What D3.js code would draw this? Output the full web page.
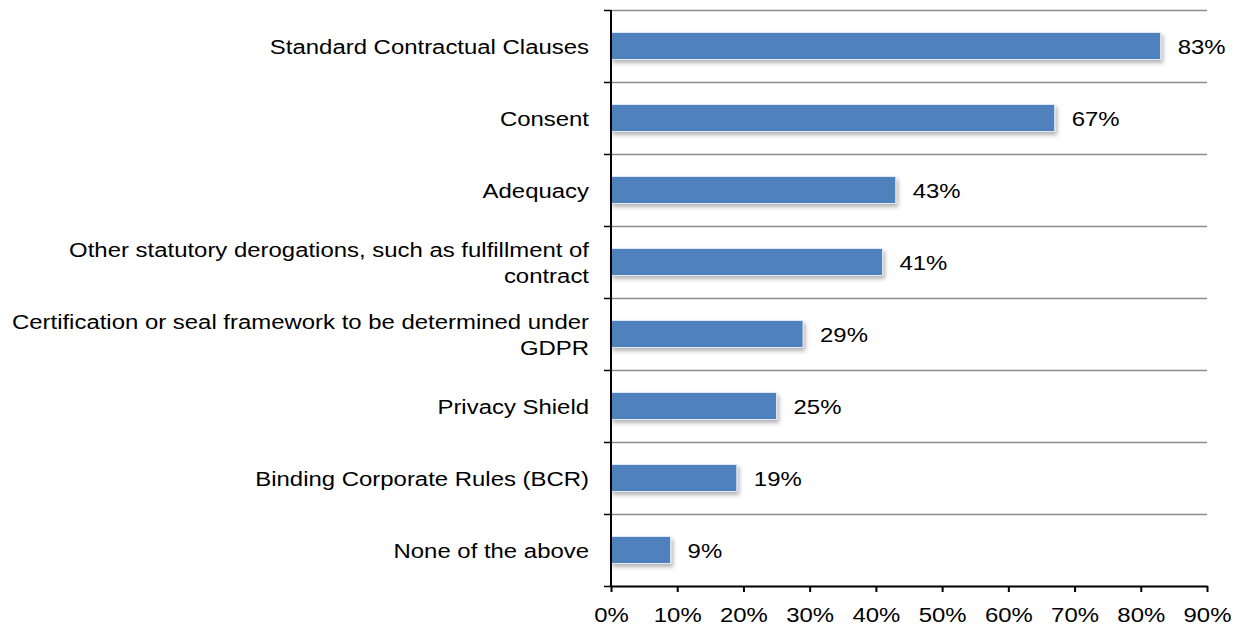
<!DOCTYPE html>
<html>
<head>
<meta charset="utf-8">
<script src="https://cdn.jsdelivr.net/npm/d3@7"></script>
<style>
  body { margin: 0; background: #fff; }
  text { font-family: "Liberation Sans", Arial, sans-serif; }
</style>
</head>
<body>
<div id="chart"></div>
<script>
// categories (lines split where the original wraps)
const categories = [
    ['Standard Contractual Clauses'],
    ['Consent'],
    ['Adequacy'],
    ['Other statutory derogations, such as fulfillment of', 'contract'],
    ['Certification or seal framework to be determined under', 'GDPR'],
    ['Privacy Shield'],
    ['Binding Corporate Rules (BCR)'],
    ['None of the above']
];
const values = [83, 67, 43, 41, 29, 25, 19, 9];
const xTicks = [0, 10, 20, 30, 40, 50, 60, 70, 80, 90];

const width = 1239;
const height = 626;
const margin = {top: 10, right: 32, bottom: 40, left: 611};
const fontSize = 21;
const stretch = 'scale(1.14,1)'; // text in the original is a bit wider than Arial

const svg = d3.select('#chart').append('svg')
    .attr('width', width)
    .attr('height', height);

// soft shadow under the bars
const filter = svg.append('defs').append('filter')
    .attr('id', 'shadow')
    .attr('x', '-10%').attr('y', '-30%')
    .attr('width', '130%').attr('height', '180%');
filter.append('feDropShadow')
    .attr('dx', 2).attr('dy', 3)
    .attr('stdDeviation', 2)
    .attr('flood-color', '#000')
    .attr('flood-opacity', 0.3);

const x = d3.scaleLinear()
    .domain([0, 90])
    .range([margin.left, width - margin.right]);

const y = d3.scaleBand()
    .domain(d3.range(categories.length))
    .range([margin.top, height - margin.bottom])
    .paddingInner(0.625)
    .paddingOuter(0.3125);

const step = y.step();

// horizontal gridlines at band boundaries
svg.append('g')
    .selectAll('line')
    .data(d3.range(categories.length))
    .enter().append('line')
    .attr('x1', x(0))
    .attr('x2', x(90))
    .attr('y1', d => Math.round(margin.top + d * step) + 0.5)
    .attr('y2', d => Math.round(margin.top + d * step) + 0.5)
    .attr('stroke', '#8c8c8c')
    .attr('stroke-width', 1.5);

// y axis ticks at boundaries
svg.append('g')
    .selectAll('line')
    .data(d3.range(categories.length + 1))
    .enter().append('line')
    .attr('x1', x(0) - 7)
    .attr('x2', x(0))
    .attr('y1', d => Math.round(margin.top + d * step) + 0.5)
    .attr('y2', d => Math.round(margin.top + d * step) + 0.5)
    .attr('stroke', '#000')
    .attr('stroke-width', 1.5);

// bars
svg.append('g')
    .selectAll('rect')
    .data(values)
    .enter().append('rect')
    .attr('x', x(0))
    .attr('y', (d, i) => y(i))
    .attr('width', d => x(d) - x(0))
    .attr('height', y.bandwidth())
    .attr('fill', '#4f81bd')
    .attr('stroke', '#dfe8f3')
    .attr('stroke-width', 1)
    .attr('filter', 'url(#shadow)');

// value labels
svg.append('g')
    .selectAll('text')
    .data(values)
    .enter().append('text')
    .attr('transform', (d, i) => `translate(${x(d) + 17}, ${y(i) + y.bandwidth() / 2}) ${stretch}`)
    .attr('dy', '0.36em')
    .attr('font-size', fontSize)
    .attr('fill', '#000')
    .text(d => d + '%');

// category labels
const labels = svg.append('g')
    .selectAll('text')
    .data(categories)
    .enter().append('text')
    .attr('text-anchor', 'end')
    .attr('font-size', fontSize)
    .attr('fill', '#000')
    .attr('transform', (d, i) => `translate(589, ${y(i) + y.bandwidth() / 2}) ${stretch}`);

labels.each(function(lines) {
    const lh = 26;
    const start = -(lines.length - 1) * lh / 2;
    d3.select(this).selectAll('tspan')
        .data(lines)
        .enter().append('tspan')
        .attr('x', 0)
        .attr('y', (d, j) => start + j * lh)
        .attr('dy', '0.36em')
        .text(d => d);
});

// vertical axis line
svg.append('line')
    .attr('x1', x(0)).attr('x2', x(0))
    .attr('y1', margin.top).attr('y2', height - margin.bottom)
    .attr('stroke', '#000')
    .attr('stroke-width', 2);

// x axis
const xAxis = d3.axisBottom(x)
    .tickValues(xTicks)
    .tickFormat(d => d + '%')
    .tickSizeInner(6)
    .tickSizeOuter(0)
    .tickPadding(15);

const gx = svg.append('g')
    .attr('transform', `translate(0, ${height - margin.bottom})`)
    .call(xAxis);
gx.select('.domain').attr('stroke', '#000').attr('stroke-width', 2);
gx.selectAll('.tick line').attr('stroke', '#000').attr('stroke-width', 2);
gx.selectAll('.tick text')
    .attr('font-size', fontSize)
    .attr('font-family', '"Liberation Sans", Arial, sans-serif')
    .attr('fill', '#000')
    .attr('transform', stretch);
</script>
</body>
</html>
